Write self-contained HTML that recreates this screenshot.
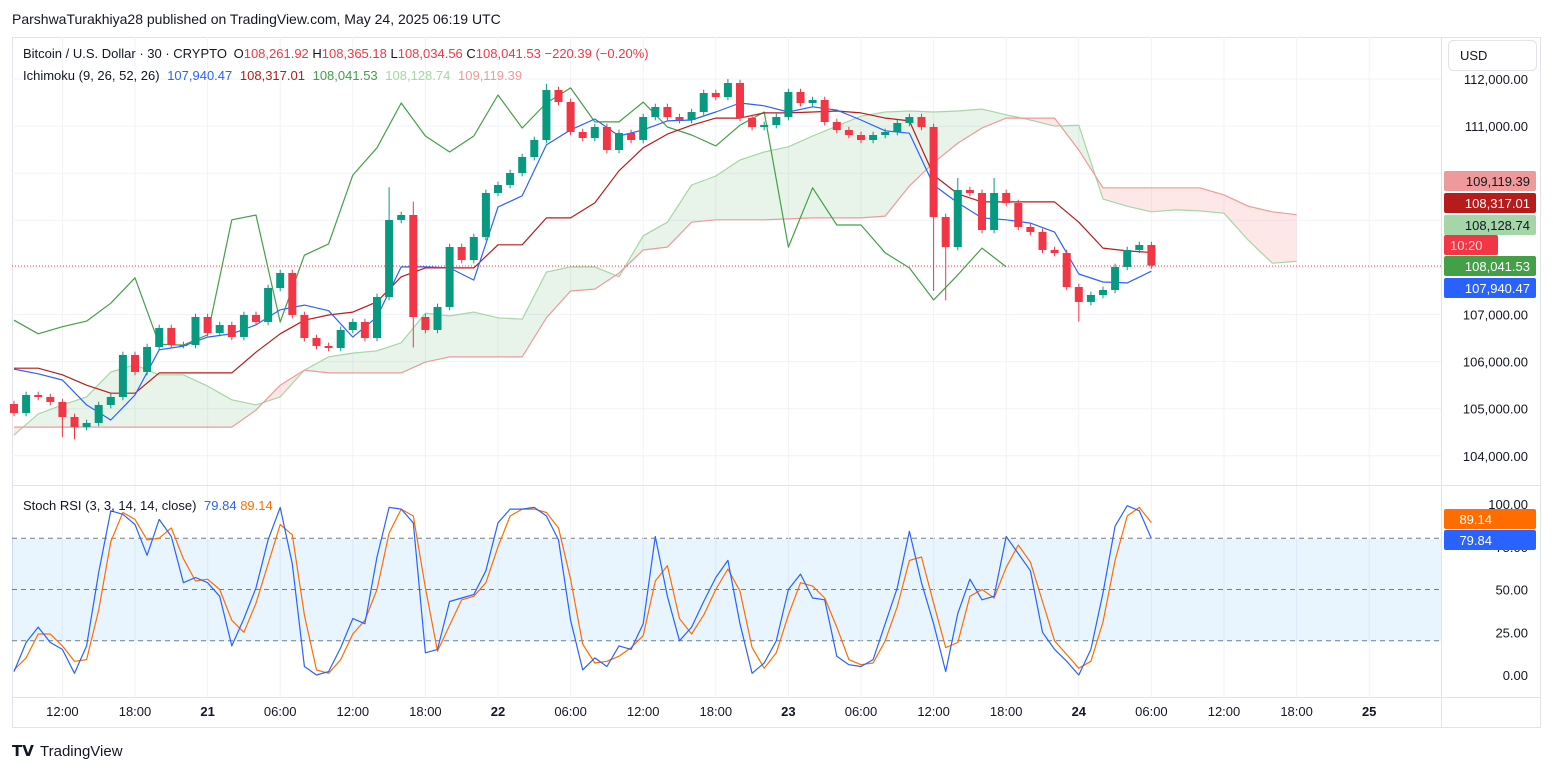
<!DOCTYPE html>
<html><head><meta charset="utf-8">
<style>
html,body{margin:0;padding:0;background:#fff;}
body{width:1553px;height:772px;overflow:hidden;font-family:"Liberation Sans",sans-serif;}
svg text{font-family:"Liberation Sans",sans-serif;}
</style></head>
<body>
<svg id="c" width="1553" height="772" viewBox="0 0 1553 772" xmlns="http://www.w3.org/2000/svg">
<text x="12" y="24" font-size="14" fill="#131722">ParshwaTurakhiya28 published on TradingView.com, May 24, 2025 06:19 UTC</text>
<rect x="12.5" y="37.5" width="1528" height="690" fill="none" stroke="#e0e3eb"/>
<g id="grid"></g>
<rect x="12" y="539" width="1429" height="102" fill="rgba(33,150,243,0.1)"/>
<g id="cloud"></g>
<g id="lines"></g>
<g id="candles"></g>
<g id="stoch"></g>
<line x1="12" y1="485.5" x2="1540" y2="485.5" stroke="#e0e3eb"/>
<line x1="1441.5" y1="37" x2="1441.5" y2="728" stroke="#e0e3eb"/>
<line x1="12" y1="697.5" x2="1540" y2="697.5" stroke="#e0e3eb"/>
<line x1="12" y1="266" x2="1441" y2="266" stroke="#f23645" stroke-dasharray="1,2"/>
<g id="axes"></g>
<text x="23" y="58" font-size="13" fill="#131722">Bitcoin / U.S. Dollar · 30 · CRYPTO <tspan dx="3">O</tspan><tspan fill="#f23645">108,261.92</tspan> H<tspan fill="#f23645">108,365.18</tspan> L<tspan fill="#f23645">108,034.56</tspan> C<tspan fill="#f23645">108,041.53</tspan> <tspan fill="#f23645">−220.39 (−0.20%)</tspan></text>
<text x="23" y="80" font-size="13" fill="#131722">Ichimoku (9, 26, 52, 26) <tspan dx="4" fill="#2962ff">107,940.47</tspan> <tspan dx="4" fill="#b71c1c">108,317.01</tspan> <tspan dx="4" fill="#43a047">108,041.53</tspan> <tspan dx="4" fill="#a5d6a7">108,128.74</tspan> <tspan dx="4" fill="#ef9a9a">109,119.39</tspan></text>
<text x="23" y="510" font-size="13" fill="#131722">Stoch RSI (3, 3, 14, 14, close) <tspan dx="4" fill="#2962ff">79.84</tspan> <tspan dx="0" fill="#ff6d00">89.14</tspan></text>
<rect x="1448.5" y="40.5" width="88" height="30" rx="5" fill="#fff" stroke="#e0e3eb"/>
<text x="1460" y="60" font-size="13" fill="#131722">USD</text>
<g id="badges"></g>
<g>
<text x="12" y="756" font-size="15" font-weight="bold" fill="#131722">𝗧𝗩</text>
<text x="40" y="756" font-size="15" fill="#131722">TradingView</text>
</g>
</svg>
<script>
// ---- data ----
const closes=[104909,105291,105249,105143,104824,104612,104697,105079,105249,106141,105780,106310,106714,106353,106353,106947,106608,106777,106523,106990,106841,107563,107881,106990,106501,106332,106289,106671,106841,106501,107372,109007,109113,106947,106671,107160,108433,108157,108646,109580,109750,110004,110344,110705,111766,111512,110875,110747,110981,110493,110854,110705,111193,111406,111193,111130,111299,111703,111618,111915,111172,110981,111023,111193,111724,111490,111554,111087,110917,110811,110705,110811,110875,111066,111193,110981,109070,108433,109643,109580,108794,109580,109367,108858,108752,108370,108306,107584,107266,107414,107521,108009,108370,108476,108041];
const firstOpen=105100;
const lowOverride={33:106300,76:107500,77:107300,88:106850,4:104400,5:104350};
const highOverride={31:109700,33:109400,44:111900,59:112000,78:109900,81:109900};
const tenkan=[105840,105740,105610,105080,104760,105290,106250,106330,106520,106590,106780,107100,107200,107080,106520,106950,108010,108010,107990,107730,109280,109520,110600,110920,111150,110790,110920,111110,111130,111300,111490,111430,111300,111410,111340,111130,110900,110850,109750,109370,109050,109010,108940,108750,107860,107690,107670,107920];
const kijun=[105860,105860,105720,105500,105330,105330,105760,105760,105760,105760,106200,106590,106880,106990,107050,107270,107800,107990,107990,107990,108480,108480,109050,109050,109370,110050,110540,110830,111020,111170,111170,111280,111280,111300,111320,111280,111170,111110,109960,109560,109390,109390,109390,109390,108960,108410,108350,108317];
const spanA=[104440,104890,105080,105250,105780,105930,105720,105720,105480,105190,105080,105250,105820,106100,106180,106230,106400,107030,106970,107050,106930,106900,107900,108010,108010,107800,108670,108960,109750,109940,110280,110450,110560,110790,111000,111210,111300,111320,111300,111320,111360,111240,111130,111000,111020,109450,109300,109180,109220,109200,109150,108580,108090,108128];
const spanB=[104610,104610,104610,104610,104610,104610,104610,104610,104610,104610,104970,105500,105820,105760,105760,105760,105760,105990,106100,106100,106100,106100,106930,107500,107540,107880,108370,108430,108960,109010,109010,109010,109030,109050,109050,109050,109090,109730,110220,110640,110960,111170,111170,111170,110490,109690,109690,109690,109690,109690,109540,109300,109180,109119];
const chikou=[106880,106590,106740,106860,107240,107780,106370,106350,106570,109010,109110,106840,108260,108500,109960,110540,111490,110790,110450,110790,111660,110960,111490,111810,111090,111090,111510,110980,110810,110580,111020,111300,108430,109690,108900,108900,108310,107990,107310,107840,108410,108010];
const stochK=[2,19,28,19,15,1,17,60,96,94,88,70,91,81,54,57,54,46,17,33,51,79,98,65,5,0,2,16,33,30,69,98,97,89,13,15,43,45,47,61,89,97,97,98,93,79,32,3,10,5,17,15,30,81,46,20,28,43,57,67,30,1,7,20,50,59,45,44,11,6,5,9,30,51,84,54,30,2,36,56,44,46,81,71,61,25,15,8,0,15,48,87,99,96,79.84];
const stochD=[3,10,24,24,17,8,9,38,78,95,91,79,80,86,68,55,56,50,32,25,42,65,88,82,35,3,1,9,24,32,50,83,97,93,51,14,29,44,46,54,75,93,97,97,95,86,56,18,7,8,11,16,23,55,64,33,24,35,50,62,49,16,4,13,35,54,52,45,28,9,6,7,20,40,67,69,42,16,19,46,50,45,63,76,66,43,20,12,4,8,31,67,93,98,89.14];
const gridPrices=[112000,111000,110000,109000,108000,107000,106000,105000,104000];
const priceTicks=[112000,111000,107000,106000,105000,104000];
const priceTickLabels=["112,000.00","111,000.00","107,000.00","106,000.00","105,000.00","104,000.00"];
const stochTicks=[100,75,50,25,0];
const timeTickHours=[4,10,16,22,28,34,40,46,52,58,64,70,76,82,88,94,100,106,112];
const timeTickLabels=["12:00","18:00","21","06:00","12:00","18:00","22","06:00","12:00","18:00","23","06:00","12:00","18:00","24","06:00","12:00","18:00","25"];
const badgeVals=[109119.39,108317.01,108128.74,108041.53,107940.47];
const badgeText=["109,119.39","108,317.01","108,128.74","108,041.53","107,940.47"];
// ---- scales ----
const X=h=>14+h*12.1;
const Y=p=>79+(112000-p)*0.0471;
const SY=v=>675-v*1.71;
const NS='http://www.w3.org/2000/svg';
function mk(tag,parent,attrs){const e=document.createElementNS(NS,tag);for(const k in attrs)e.setAttribute(k,attrs[k]);parent.appendChild(e);return e;}
const grid=document.getElementById('grid'),axes=document.getElementById('axes');
gridPrices.forEach(p=>{
 const l=mk('line',grid,{x1:12,x2:1441,y1:Y(p),y2:Y(p),stroke:'#f0f3fa'});
 
 
});
priceTicks.forEach((p,i)=>{
 const t=mk('text',axes,{x:1528,y:Y(p)+5,'font-size':13,fill:'#131722','text-anchor':'end'});
 t.textContent=priceTickLabels[i];
 
 
});
stochTicks.forEach(v=>{
 const t=mk('text',axes,{x:1528,y:SY(v)+5,'font-size':13,fill:'#131722','text-anchor':'end'});
 t.textContent=v.toFixed(2);
 
 
});
[80,50,20].forEach(v=>{
 const l=mk('line',grid,{x1:12,x2:1441,y1:SY(v),y2:SY(v),stroke:'#787b86','stroke-dasharray':'5,4'});
 
 
});
timeTickHours.forEach((h,i)=>{
 const l=mk('line',grid,{x1:X(h),x2:X(h),y1:37,y2:697,stroke:'#f0f3fa'});
 
 
 const bold=!timeTickLabels[i].includes(':');
 const t=mk('text',axes,{x:X(h),y:716,'font-size':13,fill:'#131722','text-anchor':'middle','font-weight':bold?'bold':'normal'});
 t.textContent=timeTickLabels[i];
 
 
});
// cloud
const cloud=document.getElementById('cloud');
for(let j=0;j<spanA.length-1;j++){
 const x0=X(2*j),x1=X(2*j+2),a0=spanA[j],a1=spanA[j+1],b0=spanB[j],b1=spanB[j+1];
 const d0=a0-b0,d1=a1-b1;
 const segs=[];
 if(d0*d1<0){const t=d0/(d0-d1);const xm=x0+(x1-x0)*t,pm=a0+(a1-a0)*t;
  segs.push([x0,a0,b0,xm,pm,pm,d0>0]);segs.push([xm,pm,pm,x1,a1,b1,d1>0]);}
 else segs.push([x0,a0,b0,x1,a1,b1,(d0+d1)>=0]);
 segs.forEach(s=>{
  const pg=mk('polygon',cloud,{points:`${s[0]},${Y(s[1])} ${s[3]},${Y(s[4])} ${s[3]},${Y(s[5])} ${s[0]},${Y(s[2])}`,fill:s[6]?'rgba(67,160,71,0.12)':'rgba(244,67,54,0.12)'});
  
  
 });
}
const lines=document.getElementById('lines');
function poly(arr,step,col,name,parent,ys){
 const pts=arr.map((v,i)=>`${X(i*step).toFixed(1)},${ys(v).toFixed(1)}`).join(' ');
 const p=mk('polyline',parent,{points:pts,fill:'none',stroke:col,'stroke-width':1.2,'stroke-linejoin':'round'});
 
 
}
poly(spanA,2,'#a5d6a7','senkou-span-a',lines,Y);
poly(spanB,2,'#ef9a9a','senkou-span-b',lines,Y);
poly(chikou,2,'#43a047','chikou-span',lines,Y);
poly(kijun,2,'#b71c1c','kijun-sen',lines,Y);
poly(tenkan,2,'#2962ff','tenkan-sen',lines,Y);
// candles
const cg=document.getElementById('candles');
closes.forEach((c,i)=>{
 const o=i===0?firstOpen:closes[i-1];
 const up=c>=o,col=up?'#089981':'#f23645';
 const hi=highOverride[i]!==undefined?highOverride[i]:Math.max(o,c)+70;
 const lo=lowOverride[i]!==undefined?lowOverride[i]:Math.min(o,c)-70;
 const x=X(i);
 const w=mk('line',cg,{x1:x,x2:x,y1:Y(hi),y2:Y(lo),stroke:col,'stroke-width':1});
 
 
 const top=Y(Math.max(o,c)),h=Math.max(1,Y(Math.min(o,c))-top);
 const b=mk('rect',cg,{x:x-4,y:top,width:8,height:h,fill:col});
 
 
});
const sg=document.getElementById('stoch');
poly(stochD,1,'#ff6d00','stoch-d-line',sg,SY);
poly(stochK,1,'#2962ff','stoch-k-line',sg,SY);
// badges
const bg=document.getElementById('badges');
const badgeStyle=[['#ef9a9a','#131722'],['#b71c1c','#fff'],['#a5d6a7','#131722'],['#43a047','#fff'],['#2962ff','#fff']];
const badgeY=[181,203,225,266,288];
badgeVals.forEach((v,i)=>{
 const r=mk('rect',bg,{x:1444,y:badgeY[i]-10,width:92,height:20,rx:2,fill:badgeStyle[i][0]});
 
 
 const t=mk('text',bg,{x:1530,y:badgeY[i]+5,'font-size':13,fill:badgeStyle[i][1],'text-anchor':'end'});
 t.textContent=badgeText[i];
 
 
});
const cd=mk('rect',bg,{x:1444,y:235,width:54,height:20,rx:2,fill:'#f23645'});


const cdt=mk('text',bg,{x:1450,y:250,'font-size':13,fill:'#ffd6d9'});
cdt.textContent='10:20';


[[89.14,'#ff6d00','89.14',519],[79.84,'#2962ff','79.84',540]].forEach(b=>{
 const r=mk('rect',bg,{x:1444,y:b[3]-10,width:92,height:20,rx:2,fill:b[1]});
 
 
 const t=mk('text',bg,{x:1492,y:b[3]+5,'font-size':13,fill:'#fff','text-anchor':'end'});
 t.textContent=b[2];
 
 
});
</script>
</body></html>
